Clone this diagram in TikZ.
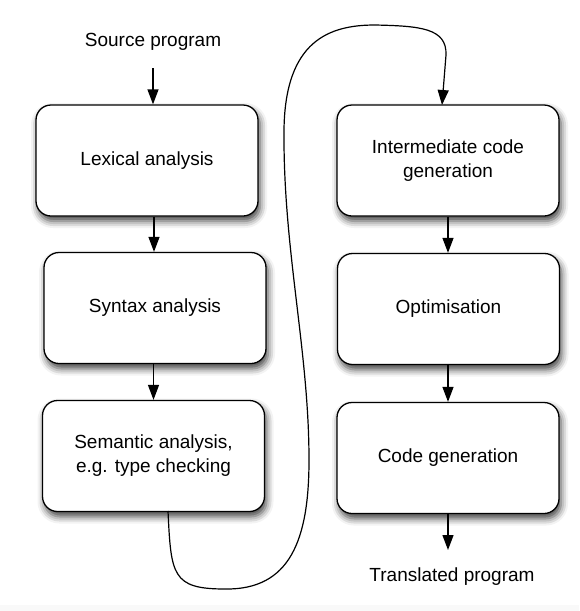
\documentclass[tikz,border=0pt]{standalone}
\usepackage{fontspec}
\setmainfont{Liberation Sans}
\usetikzlibrary{arrows.meta,shadows.blur}
\begin{document}
\begin{tikzpicture}[x=1pt,y=-1pt,
  stage/.style={draw=black,line width=1.3pt,rounded corners=15pt,fill=white,
    minimum width=222pt,minimum height=111pt,inner sep=0pt,align=center,
    font=\fontsize{19}{24}\selectfont,
    blur shadow={shadow xshift=2pt,shadow yshift=-5pt,shadow blur radius=7pt,shadow opacity=75}},
  lbl/.style={font=\fontsize{19}{24}\selectfont,inner sep=0pt},
  arr/.style={line width=1.3pt,-{Triangle[width=11pt,length=15pt]}},
  flow/.style={line width=1.2pt,-{Triangle[width=11pt,length=15pt]}}]
\useasboundingbox (0,0) rectangle (579,611);
\fill[gray!5] (0,605) rectangle (579,611);

\node[stage] (l1) at (147,160.5) {Lexical analysis};
\node[stage] (l2) at (155,308) {Syntax analysis};
\node[stage] (l3) at (153.5,456) {Semantic analysis,\\e.g. type checking};
\node[stage] (r1) at (448,160.5) {Intermediate code\\generation};
\node[stage] (r2) at (448.5,309) {Optimisation};
\node[stage] (r3) at (448,458) {Code generation};

\node[lbl] (src) at (153,42) {Source program};
\node[lbl] (dst) at (452,577) {Translated program};

\coordinate (srcend) at (153,68);
\coordinate (cstart) at (168,511);
\coordinate (ctip) at (442,105);

\draw[arr] (srcend) -- (srcend |- l1.north);
\draw[arr] (l1.south -| 154,0) -- (l2.north -| 154,0);
\draw[arr] (l2.south -| 153.5,0) -- (l3.north -| 153.5,0);
\draw[arr] (r1.south) -- (r1.south |- r2.north);
\draw[arr] (r2.south -| r1.south) -- (r3.north);
\draw[arr] (r3.south) -- (448,550);

\draw[flow] (cstart) .. controls (171,575) and (172,589) .. (225,589)
  .. controls (290,590) and (309,540) .. (309,460)
  .. controls (309,350) and (283,250) .. (284,130)
  .. controls (285,40) and (330,25) .. (375,25)
  .. controls (420,26) and (447,28) .. (446,55)
  -- (ctip);
\end{tikzpicture}
\end{document}
